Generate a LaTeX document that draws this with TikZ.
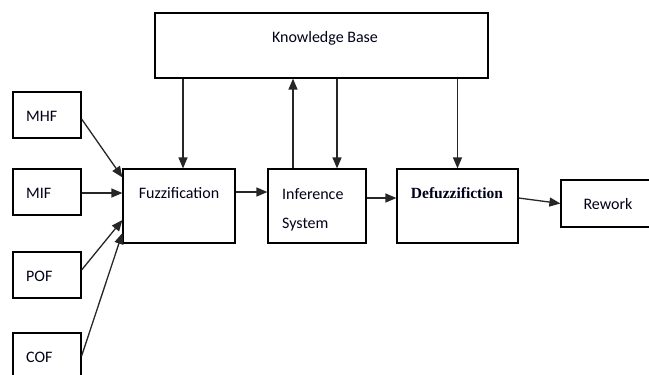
\documentclass[tikz,border=0pt]{standalone}
\usepackage{fontspec}
\setmainfont{Carlito}
\newfontfamily\defzfont{Liberation Serif}
\usetikzlibrary{arrows.meta}
\begin{document}
\begin{tikzpicture}[x=1pt,y=-1pt,
  box/.style={draw, line width=1.2pt, inner sep=0pt},
  lbl/.style={inner sep=0pt, font=\fontsize{16}{29}\selectfont, text=black!90!blue},
  arr/.style={line width=1.3pt, draw=black!85, -{Triangle[width=9pt,length=11pt]}}]
\useasboundingbox (0,0) rectangle (649,375);
\clip (0,0) rectangle (649,375);
% boxes
\node[box, minimum width=333pt, minimum height=65pt] (kb) at (321.5,45.5) {};
\node[box, minimum width=68pt, minimum height=46pt] (mhf) at (47,115) {};
\node[box, minimum width=68pt, minimum height=46pt] (mif) at (47,192) {};
\node[box, minimum width=68pt, minimum height=46pt] (pof) at (47,275) {};
\node[box, minimum width=68pt, minimum height=46pt] (cof) at (47,356) {};
\node[box, minimum width=112pt, minimum height=74pt] (fuzz) at (179,206) {};
\node[box, minimum width=98pt, minimum height=74pt] (inf) at (317,206) {};
\node[box, minimum width=121pt, minimum height=74pt] (defz) at (457.5,206) {};
\node[box, minimum width=94pt, minimum height=47pt] (rew) at (608,203.5) {};
% labels
\node[lbl] (kbt) at (325,38) {Knowledge Base};
\node[lbl, anchor=west] (mhft) at (26,116) {MHF};
\node[lbl, anchor=west] (mift) at (26,193) {MIF};
\node[lbl, anchor=west] (poft) at (26,276) {POF};
\node[lbl, anchor=west] (coft) at (26,357) {COF};
\node[lbl] (fuzzt) at (179,193) {Fuzzification};
\node[lbl, anchor=north west, align=left] (inft) at (282,188) {Inference\\System};
\node[lbl, font=\defzfont\bfseries\fontsize{15.5}{18}\selectfont] (defzt) at (457,193) {Defuzzifiction};
\node[lbl] (rewt) at (608,204) {Rework};
% arrows from inputs
\draw[arr] ([yshift=-4pt]mhf.east) -- ([yshift=-9pt]fuzz.north west);
\draw[arr] ([yshift=-1pt]mif.east) -- ([yshift=-1pt]mif.east -| fuzz.west);
\draw[arr] ([yshift=5pt]pof.east) -- ([yshift=-14pt]fuzz.west);
\draw[arr] (cof.east) -- ([yshift=-27pt]fuzz.west);
% knowledge base links
\coordinate (fz) at ([xshift=4pt]fuzz.north);
\draw[arr] (kb.south -| fz) -- (fz);
\coordinate (iu) at ([xshift=-24pt]inf.north);
\draw[arr] (iu) -- (iu |- kb.south);
\coordinate (id) at ([xshift=20pt]inf.north);
\draw[arr] (kb.south -| id) -- (id);
\draw[arr] (kb.south -| defz.north) -- (defz.north);
% chain
\draw[arr] ([yshift=14pt]fuzz.east) -- ([yshift=14pt]fuzz.east -| inf.west);
\draw[arr] ([yshift=8pt]inf.east) -- ([yshift=8pt]inf.east -| defz.west);
\draw[arr] ([yshift=8pt]defz.east) -- (rew.west);
\end{tikzpicture}
\end{document}
